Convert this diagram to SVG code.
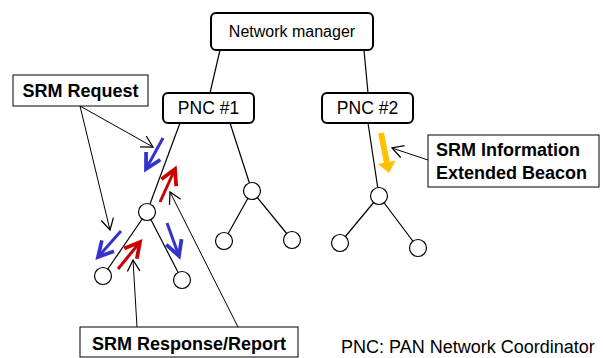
<svg xmlns="http://www.w3.org/2000/svg" width="603" height="358" viewBox="0 0 603 358">
<defs>
<style>
.box{fill:#fff;stroke:#000;stroke-width:2}
.lbl{fill:#fff;stroke:#000;stroke-width:1}
.edge{stroke:#000;stroke-width:1.2;fill:none}
.node{fill:#fff;stroke:#000;stroke-width:1.2}
.ptr{stroke:#000;stroke-width:1;fill:none;marker-end:url(#mk)}
.blue{stroke:#3333cc;stroke-width:3;fill:none;marker-end:url(#mb)}
.red{stroke:#cc0000;stroke-width:3;fill:none;marker-end:url(#mr)}
.t{font-family:"Liberation Sans",Arial,sans-serif;fill:#000}
.b{font-family:"Liberation Sans",Arial,sans-serif;font-weight:bold;font-size:18px;fill:#000}
</style>
<marker id="mk" markerUnits="userSpaceOnUse" orient="auto" refX="0" refY="0" markerWidth="20" markerHeight="20" viewBox="-12 -8 14 16" overflow="visible">
<path d="M-9,-5 L0,0 L-9,5" fill="none" stroke="#000" stroke-width="1"/>
</marker>
<marker id="mb" markerUnits="userSpaceOnUse" orient="auto" refX="0" refY="0" markerWidth="20" markerHeight="20" viewBox="-14 -8 16 16" overflow="visible">
<path d="M-12,-6.5 L0,0 L-12,6.5" fill="none" stroke="#3333cc" stroke-width="3"/>
</marker>
<marker id="mr" markerUnits="userSpaceOnUse" orient="auto" refX="0" refY="0" markerWidth="20" markerHeight="20" viewBox="-14 -8 16 16" overflow="visible">
<path d="M-12,-6.5 L0,0 L-12,6.5" fill="none" stroke="#cc0000" stroke-width="3"/>
</marker>
</defs>
<rect width="603" height="358" fill="#fff"/>
<g id="connectors">
<line class="edge" x1="220" y1="50" x2="210" y2="93"/>
<line class="edge" x1="364" y1="50" x2="368" y2="93"/>
<line class="edge" x1="180" y1="123" x2="147" y2="212"/>
<line class="edge" x1="230" y1="123" x2="252" y2="191"/>
<line class="edge" x1="368" y1="123" x2="379" y2="196"/>
<line class="edge" x1="147" y1="212" x2="103" y2="276"/>
<line class="edge" x1="147" y1="212" x2="182" y2="280"/>
<line class="edge" x1="252" y1="191" x2="224" y2="241"/>
<line class="edge" x1="252" y1="191" x2="292" y2="240"/>
<line class="edge" x1="379" y1="196" x2="340" y2="243"/>
<line class="edge" x1="379" y1="196" x2="418" y2="248"/>
<line class="ptr" x1="80" y1="106" x2="153" y2="147"/>
<line class="ptr" x1="80" y1="106" x2="110" y2="230"/>
<line class="ptr" x1="137" y1="327" x2="133" y2="260"/>
<line class="ptr" x1="238" y1="327" x2="170" y2="192"/>
<line class="ptr" x1="428" y1="160" x2="392" y2="148"/>
<line class="blue" x1="163" y1="138" x2="146" y2="169"/>
<line class="blue" x1="121" y1="231" x2="98" y2="257"/>
<line class="blue" x1="167" y1="223" x2="179" y2="256"/>
<line class="red" x1="160" y1="202" x2="175" y2="169"/>
<line class="red" x1="118" y1="269" x2="140" y2="242"/>
<g id="beacon-arrow">
<line x1="381" y1="133" x2="387" y2="163" stroke="#ffc000" stroke-width="6"/>
<polygon points="389,173 395.6,160.4 378,164" fill="#ffc000"/>
</g>
</g>
<g id="nm"><rect class="box" x="211" y="13" width="162" height="37" rx="5"/><text class="t" x="292" y="37" font-size="16" text-anchor="middle">Network manager</text></g>
<g id="pnc1"><rect class="box" x="163" y="93" width="91" height="30" rx="5"/><text class="t" x="208.5" y="114" font-size="17.5" text-anchor="middle">PNC #1</text></g>
<g id="pnc2"><rect class="box" x="322" y="93" width="91" height="30" rx="5"/><text class="t" x="367.5" y="114" font-size="17.5" text-anchor="middle">PNC #2</text></g>
<g id="n1"><circle class="node" cx="147" cy="212" r="8.5"/></g>
<g id="n2"><circle class="node" cx="103" cy="276" r="8.5"/></g>
<g id="n3"><circle class="node" cx="182" cy="280" r="8.5"/></g>
<g id="n4"><circle class="node" cx="252" cy="191" r="8.5"/></g>
<g id="n5"><circle class="node" cx="224" cy="241" r="8.5"/></g>
<g id="n6"><circle class="node" cx="292" cy="240" r="8.5"/></g>
<g id="n7"><circle class="node" cx="379" cy="196" r="8.5"/></g>
<g id="n8"><circle class="node" cx="340" cy="243" r="8.5"/></g>
<g id="n9"><circle class="node" cx="418" cy="248" r="8.5"/></g>
<g id="srm-request"><rect class="lbl" x="13" y="75" width="135" height="31"/><text class="b" x="80.5" y="97" text-anchor="middle">SRM Request</text></g>
<g id="srm-info"><rect class="lbl" x="428" y="135" width="171" height="52"/><text class="b" x="436" y="156">SRM Information</text><text class="b" x="436" y="179">Extended Beacon</text></g>
<g id="srm-response"><rect class="lbl" x="80" y="327" width="218" height="30"/><text class="b" x="189" y="350" text-anchor="middle">SRM Response/Report</text></g>
<text id="legend" class="t" x="341" y="353" font-size="18">PNC: PAN Network Coordinator</text>
</svg>
